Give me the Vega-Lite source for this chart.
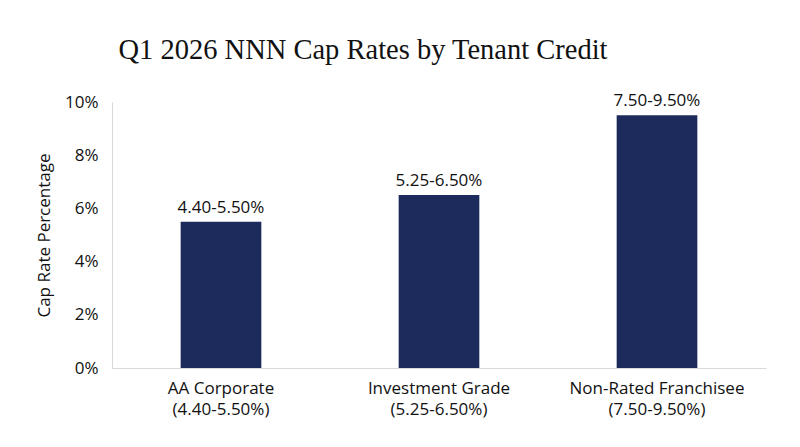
{
  "$schema": "https://vega.github.io/schema/vega-lite/v6.json",
  "width": 654,
  "height": 266,
  "autosize": {"type": "none"},
  "padding": {"left": 112, "top": 102, "right": 34, "bottom": 79},
  "background": "white",
  "title": {
    "text": "Q1 2026 NNN Cap Rates by Tenant Credit",
    "font": "Liberation Serif",
    "fontSize": 28.5,
    "fontWeight": "normal",
    "color": "#111111",
    "anchor": "middle",
    "baseline": "alphabetic",
    "dx": -76,
    "offset": 5
  },
  "data": {
    "values": [
      {"tenant": "AA Corporate|(4.40-5.50%)", "rate": 5.5, "range": "4.40-5.50%"},
      {"tenant": "Investment Grade|(5.25-6.50%)", "rate": 6.5, "range": "5.25-6.50%"},
      {"tenant": "Non-Rated Franchisee|(7.50-9.50%)", "rate": 9.5, "range": "7.50-9.50%"}
    ]
  },
  "encoding": {
    "x": {
      "field": "tenant",
      "type": "nominal",
      "sort": null,
      "scale": {"paddingInner": 0.63, "paddingOuter": 0.315},
      "axis": {
        "title": null,
        "labelAngle": 0,
        "labelExpr": "split(datum.label, '|')",
        "labelLineHeight": 21,
        "labelPadding": 12,
        "ticks": false,
        "domainColor": "#d9d9d9"
      }
    },
    "y": {
      "field": "rate",
      "type": "quantitative",
      "scale": {"domain": [0, 10]},
      "axis": {
        "title": "Cap Rate Percentage",
        "values": [0, 2, 4, 6, 8, 10],
        "labelExpr": "datum.value + '%'",
        "grid": false,
        "ticks": false,
        "labelPadding": 14,
        "titlePadding": 11,
        "domainColor": "#d9d9d9"
      }
    }
  },
  "layer": [
    {"mark": {"type": "bar", "color": "#1c2b5b"}},
    {
      "mark": {"type": "text", "baseline": "bottom", "dy": -5, "fontSize": 17, "font": "Open Sans", "color": "#111111"},
      "encoding": {"text": {"field": "range"}}
    }
  ],
  "config": {
    "view": {"stroke": null},
    "font": "Open Sans",
    "axis": {
      "labelFont": "Open Sans",
      "labelFontSize": 17,
      "labelColor": "#111111",
      "titleFont": "Open Sans",
      "titleFontSize": 17,
      "titleFontWeight": "normal",
      "titleColor": "#111111"
    }
  }
}
